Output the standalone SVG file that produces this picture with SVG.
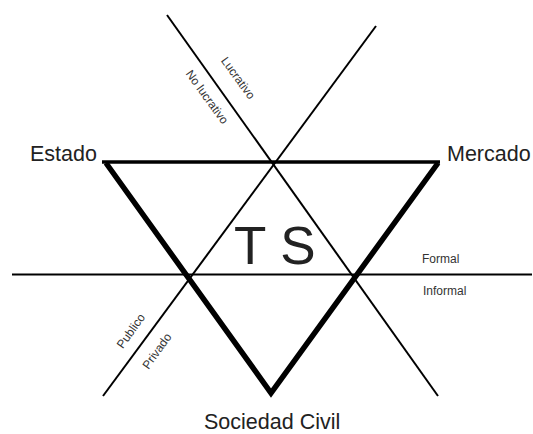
<svg xmlns="http://www.w3.org/2000/svg" width="533" height="434" viewBox="0 0 533 434">
<style>
  .lbl{font-family:"Liberation Sans",Arial,sans-serif;fill:#222;}
  .big{font-size:21.5px;}
  .small{font-size:12px;fill:#333;}
  .thin{stroke:#000;stroke-width:2;fill:none;}
  .thick{stroke:#000;stroke-width:5.5;fill:none;stroke-linejoin:miter;stroke-miterlimit:10;}
</style>
<rect width="533" height="434" fill="#fff"/>
<g id="connectors">
  <line class="thin" x1="167" y1="15" x2="438" y2="396"/>
  <line class="thin" x1="376" y1="26" x2="103" y2="396"/>
  <line class="thin" x1="12" y1="274.5" x2="532" y2="274.5" stroke-width="2.5"/>
  <line x1="102" y1="162" x2="440" y2="162" stroke="#000" stroke-width="3.5"/>
  <path class="thick" d="M106,163 L271,393 L438,163"/>
</g>
<g id="estado"><text class="lbl big" x="30" y="161">Estado</text></g>
<g id="mercado"><text class="lbl big" x="447" y="161">Mercado</text></g>
<g id="sociedad-civil"><text class="lbl big" x="204" y="429" font-size="21.5">Sociedad Civil</text></g>
<g id="ts"><text class="lbl" x="234" y="264" font-size="53" fill="#000">T S</text></g>
<g id="axis-labels">
  <text class="lbl small" text-anchor="middle" dominant-baseline="central" transform="translate(238,78) rotate(54)">Lucrativo</text>
  <text class="lbl small" text-anchor="middle" dominant-baseline="central" transform="translate(207,97) rotate(54)">No lucrativo</text>
  <text class="lbl small" text-anchor="middle" dominant-baseline="central" transform="translate(131,331) rotate(-54.5)">Publico</text>
  <text class="lbl small" text-anchor="middle" dominant-baseline="central" transform="translate(157,351) rotate(-54.5)">Privado</text>
  <text class="lbl small" x="422" y="263">Formal</text>
  <text class="lbl small" x="423" y="295">Informal</text>
</g>
</svg>
